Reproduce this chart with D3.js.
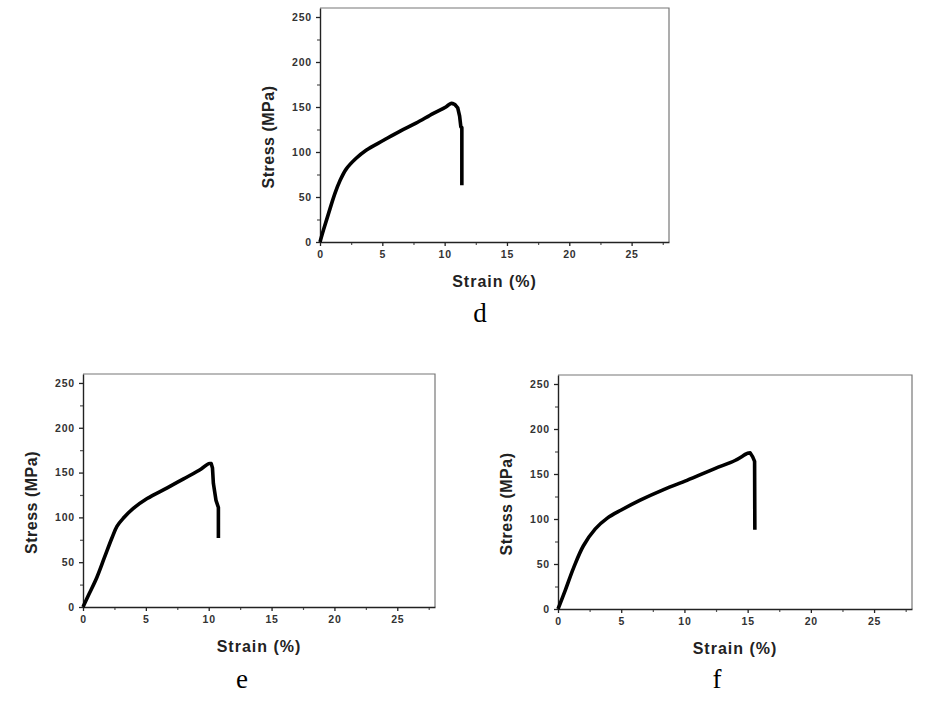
<!DOCTYPE html>
<html>
<head>
<meta charset="utf-8">
<script src="https://cdn.jsdelivr.net/npm/d3@7"></script>
<style>
  html, body { margin: 0; padding: 0; background: #fff; }
  svg { display: block; }
</style>
</head>
<body>
<svg id="chart" width="925" height="703"></svg>
<script>
// ---- data ----
const xTicks = [0, 5, 10, 15, 20, 25];
const yTicks = [0, 50, 100, 150, 200, 250];
const xTitle = "Strain (%)";
const yTitle = "Stress (MPa)";

// rising part (smooth) followed by fracture drop (straight)
const strainD = [0, 0.27, 0.67, 1.2, 1.6, 2.1, 2.9, 3.7, 5.1, 6.4, 7.7, 9.1, 10.1, 10.5, 10.8, 11.05, 11.2, 11.3, 11.38, 11.38];
const stressD = [0, 13, 31, 54, 68, 81, 93, 102, 113, 123, 132, 143, 150, 154, 153, 149, 140, 128, 127, 63];
const peakIndexD = 14;

const strainE = [0, 0.5, 1.1, 1.7, 2.3, 2.7, 3.2, 4.0, 5.1, 6.7, 8.0, 9.4, 10.0, 10.2, 10.3, 10.37, 10.58, 10.77, 10.77];
const stressE = [0, 15, 33, 55, 77, 90, 99, 110, 121, 133, 143, 154, 160, 160, 155, 138, 119, 111, 77];
const peakIndexE = 13;

const strainF = [0, 0.58, 1.24, 2.0, 2.95, 3.9, 5.0, 6.5, 8.4, 10.2, 12.4, 14.0, 15.0, 15.2, 15.4, 15.55, 15.57];
const stressF = [0, 21, 46, 70, 89, 101, 110, 121, 133, 143, 156, 165, 173, 173.5, 169, 164, 88];
const peakIndexF = 13;

const panelLabels = ["d", "e", "f"];

// ---- layout ----
const panels = [
  { x: strainD, y: stressD, k: peakIndexD, label: panelLabels[0], left: 320, right: 669, top: 8, bottom: 242, lx: 480, ly: 322 },
  { x: strainE, y: stressE, k: peakIndexE, label: panelLabels[1], left: 83, right: 435, top: 374, bottom: 607, lx: 242, ly: 688 },
  { x: strainF, y: stressF, k: peakIndexF, label: panelLabels[2], left: 558, right: 912, top: 375, bottom: 609, lx: 717, ly: 688 }
];

const svg = d3.select("#chart");
svg.append("rect").attr("width", 925).attr("height", 703).attr("fill", "#fff");

panels.forEach(p => {
  const x = d3.scaleLinear().domain([0, 28]).range([p.left, p.right]);
  const y = d3.scaleLinear().domain([0, 260]).range([p.bottom, p.top]);
  const g = svg.append("g");

  // frame top/right
  g.append("path")
    .attr("d", `M${p.left},${p.top}H${p.right}V${p.bottom}`)
    .attr("fill", "none").attr("stroke", "#777").attr("stroke-width", 1.2);

  // minor ticks
  const xMinor = d3.range(2.5, 28, 5);
  const yMinor = d3.range(25, 260, 50);
  g.append("g").attr("transform", `translate(0,${p.bottom})`)
    .call(d3.axisBottom(x).tickValues(xMinor).tickSize(3).tickFormat(""))
    .call(a => a.select(".domain").remove())
    .selectAll("line").attr("stroke", "#555").attr("stroke-width", 1.2);
  g.append("g").attr("transform", `translate(${p.left},0)`)
    .call(d3.axisLeft(y).tickValues(yMinor).tickSize(3).tickFormat(""))
    .call(a => a.select(".domain").remove())
    .selectAll("line").attr("stroke", "#555").attr("stroke-width", 1.2);

  // major axes
  const xa = g.append("g").attr("transform", `translate(0,${p.bottom})`)
    .call(d3.axisBottom(x).tickValues(xTicks).tickSize(4).tickPadding(5).tickSizeOuter(0));
  const ya = g.append("g").attr("transform", `translate(${p.left},0)`)
    .call(d3.axisLeft(y).tickValues(yTicks).tickSize(4).tickPadding(4).tickSizeOuter(0));
  [xa, ya].forEach(a => {
    a.select(".domain").attr("stroke", "#222").attr("stroke-width", 1.4);
    a.selectAll(".tick line").attr("stroke", "#222").attr("stroke-width", 1.3);
    a.selectAll("text")
      .attr("font-family", "'Liberation Sans', Arial, sans-serif")
      .attr("font-weight", "bold")
      .attr("font-size", 10.5)
      .attr("letter-spacing", 0.8)
      .attr("fill", "#333");
  });

  // curve: smooth rising part + straight fracture drop
  const pts = p.x.map((v, i) => [v, p.y[i]]);
  const rise = pts.slice(0, p.k + 1);
  const drop = pts.slice(p.k);
  const smooth = d3.line().x(d => x(d[0])).y(d => y(d[1])).curve(d3.curveCatmullRom.alpha(0.5));
  const straight = d3.line().x(d => x(d[0])).y(d => y(d[1])).curve(d3.curveLinear);
  const dStr = smooth(rise) + straight(drop).replace(/^M[^L]*/, "");
  g.append("path")
    .attr("d", dStr)
    .attr("fill", "none").attr("stroke", "#000").attr("stroke-width", 3.6)
    .attr("stroke-linejoin", "round").attr("stroke-linecap", "butt");

  // titles
  g.append("text")
    .attr("x", (p.left + p.right) / 2).attr("y", p.bottom + 45)
    .attr("text-anchor", "middle")
    .attr("font-family", "'Liberation Sans', Arial, sans-serif")
    .attr("font-weight", "bold").attr("font-size", 16).attr("letter-spacing", 1)
    .attr("fill", "#222")
    .text(xTitle);
  g.append("text")
    .attr("transform", `translate(${p.left - 46},${(p.top + p.bottom) / 2 + 12}) rotate(-90)`)
    .attr("text-anchor", "middle")
    .attr("font-family", "'Liberation Sans', Arial, sans-serif")
    .attr("font-weight", "bold").attr("font-size", 16).attr("letter-spacing", 0.5)
    .attr("fill", "#222")
    .text(yTitle);

  // panel letter
  g.append("text")
    .attr("x", p.lx).attr("y", p.ly)
    .attr("text-anchor", "middle")
    .attr("font-family", "'Liberation Serif', 'DejaVu Serif', serif")
    .attr("font-size", 27)
    .attr("fill", "#000")
    .text(p.label);
});
</script>
</body>
</html>
